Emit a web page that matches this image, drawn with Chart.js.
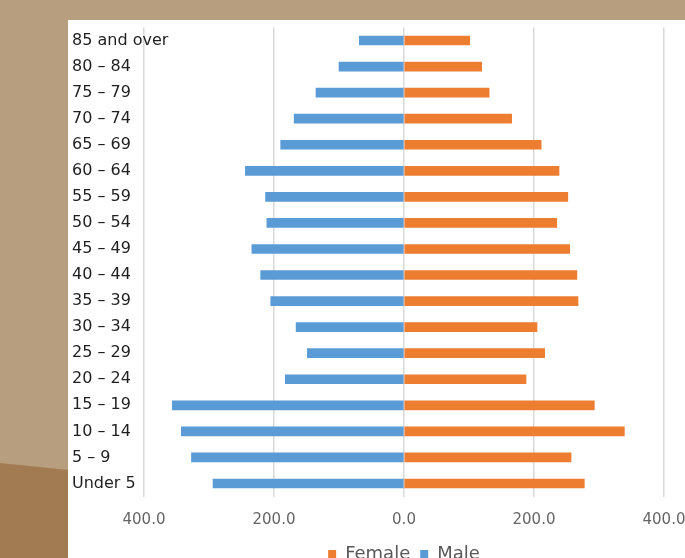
<!DOCTYPE html>
<html>
<head>
<meta charset="utf-8">
<script src="https://cdn.jsdelivr.net/npm/chart.js@4"></script>
<style>
  html, body { margin: 0; padding: 0; width: 685px; height: 558px; overflow: hidden; background: #b79e7f; }
  .dark { position: absolute; left: 0; top: 0; width: 685px; height: 558px; background: #a27b53;
          clip-path: polygon(0 463px, 68px 470px, 68px 558px, 0 558px); }
  .panel { position: absolute; left: 68px; top: 20px; width: 640px; height: 560px; background: #fff; }
</style>
</head>
<body>
<div class="dark"></div>
<div class="panel"><canvas id="pyramid" width="640" height="560"></canvas></div>
<script>
// age groups, top to bottom
var ageGroups = ["85 and over", "80 – 84", "75 – 79", "70 – 74", "65 – 69", "60 – 64", "55 – 59",
  "50 – 54", "45 – 49", "40 – 44", "35 – 39", "30 – 34", "25 – 29", "20 – 24", "15 – 19",
  "10 – 14", "5 – 9", "Under 5"];
var femaleValues = [101, 119.5, 131, 165.6, 211, 238.5, 252, 235, 255, 266, 267.7, 204.6, 216.4, 187.7, 292.8, 339, 257, 277.4];
var maleValues = [68.7, 100, 135.4, 169, 189.7, 244, 213, 211, 234, 220.5, 205, 166, 148.7, 182.6, 356.4, 342.6, 327, 293.8];
var xTicks = [-400, -200, 0, 200, 400];

var fontFam = "'DejaVu Sans', sans-serif";

new Chart(document.getElementById("pyramid"), {
  type: "bar",
  data: {
    labels: ageGroups,
    datasets: [{
      label: "Female",
      data: femaleValues,
      backgroundColor: "#ed7d31",
      barThickness: 9
    }, {
      label: "Male",
      data: maleValues.map(function (v) { return -v; }),
      backgroundColor: "#5b9bd5",
      barThickness: 9
    }]
  },
  options: {
    indexAxis: "y",
    responsive: false,
    animation: false,
    layout: { padding: { left: 4, top: 7.5, right: 44, bottom: 7 } },
    plugins: {
      legend: {
        position: "bottom",
        fullSize: false,
        labels: {
          boxWidth: 8, boxHeight: 8, padding: 10,
          color: "#595959",
          font: { family: fontFam, size: 18 }
        }
      },
      tooltip: { enabled: false }
    },
    scales: {
      x: {
        stacked: true,
        min: -400, max: 400,
        afterBuildTicks: function (scale) {
          scale.ticks = xTicks.map(function (v) { return { value: v }; });
        },
        afterFit: function (scale) { scale.height = 38.5; },
        grid: { color: "#d9d9d9", lineWidth: 1.5, drawTicks: false },
        border: { display: false },
        ticks: {
          padding: 15,
          color: "#666666",
          font: { family: fontFam, size: 15 },
          callback: function (v) { return Math.abs(v).toFixed(1); }
        }
      },
      y: {
        stacked: true,
        afterFit: function (scale) { scale.width = 72; },
        grid: { display: false },
        border: { display: false },
        ticks: {
          mirror: true,
          padding: -72,
          crossAlign: "near",
          color: "#1f1f1f",
          font: { family: fontFam, size: 16 }
        }
      }
    }
  }
});
</script>
</body>
</html>
